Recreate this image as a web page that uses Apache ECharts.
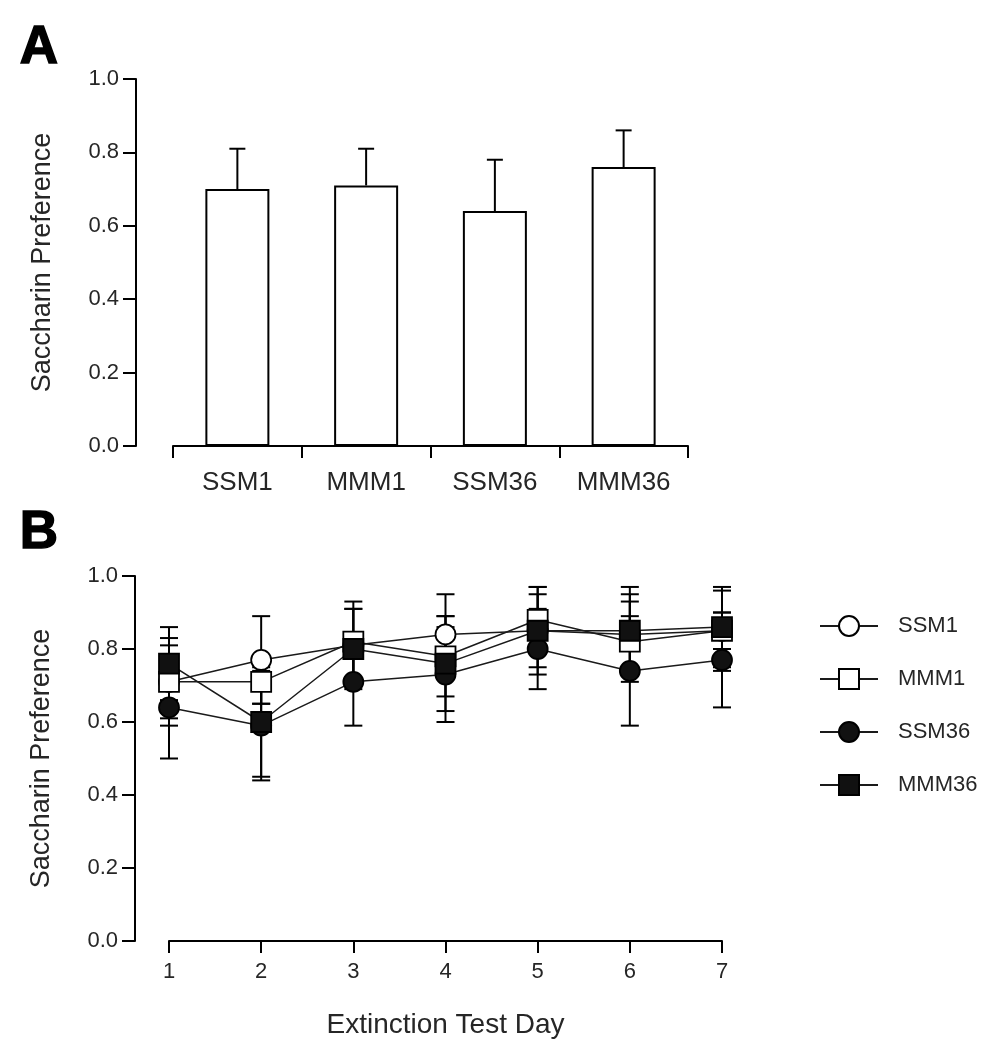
<!DOCTYPE html>
<html>
<head>
<meta charset="utf-8">
<script src="https://cdn.jsdelivr.net/npm/echarts@6/dist/echarts.min.js"></script>
<style>html,body{margin:0;padding:0;background:#fff}#c{width:996px;height:1050px}</style>
</head>
<body>
<div id="c"></div>
<script>
// Panel A data
const barCategories = ['SSM1', 'MMM1', 'SSM36', 'MMM36'];
const barMeans = [0.70, 0.71, 0.64, 0.76];
const barSEM = [0.11, 0.10, 0.14, 0.10];

// Panel B data
const days = [1, 2, 3, 4, 5, 6, 7];
const groupNames = ['SSM1', 'MMM1', 'SSM36', 'MMM36'];
const ssm1Mean = [0.71, 0.77, 0.81, 0.84, 0.85, 0.84, 0.85];
const ssm1SEM = [0.12, 0.12, 0.10, 0.11, 0.10, 0.11, 0.11];
const mmm1Mean = [0.71, 0.71, 0.82, 0.78, 0.88, 0.82, 0.85];
const mmm1SEM = [0.10, 0.06, 0.11, 0.11, 0.09, 0.11, 0.05];
const ssm36Mean = [0.64, 0.59, 0.71, 0.73, 0.80, 0.74, 0.77];
const ssm36SEM = [0.14, 0.15, 0.12, 0.13, 0.11, 0.15, 0.13];
const mmm36Mean = [0.76, 0.60, 0.80, 0.76, 0.85, 0.85, 0.86];
const mmm36SEM = [0.10, 0.15, 0.11, 0.13, 0.12, 0.12, 0.11];
const yTicks = [0, 0.2, 0.4, 0.6, 0.8, 1.0];

const FONT = "'Liberation Sans', Arial, sans-serif";
const TXT = '#262626';

const chart = echarts.init(document.getElementById('c'), null, {renderer: 'canvas'});

function yAxisCfg(gridIndex, offset) {
  return {
    type: 'value', gridIndex: gridIndex, min: yTicks[0], max: yTicks[yTicks.length - 1], interval: 0.2,
    offset: offset,
    name: 'Saccharin Preference', nameLocation: 'middle', nameGap: 80,
    nameTextStyle: {fontFamily: FONT, fontSize: 27, color: TXT},
    axisLine: {show: true, lineStyle: {color: '#000', width: 2}},
    axisTick: {show: true, length: 13, lineStyle: {color: '#000', width: 2}},
    axisLabel: {fontFamily: FONT, fontSize: 22, color: TXT, margin: 17,
      formatter: v => v.toFixed(1)},
    splitLine: {show: false}
  };
}

function errRenderBoth(params, api) {
  const x = api.value(0), y = api.value(1), e = api.value(2);
  const hi = api.coord([x, y + e]);
  const lo = api.coord([x, y - e]);
  const hw = 9;
  const st = {stroke: '#000', lineWidth: 2};
  return {type: 'group', children: [
    {type: 'line', shape: {x1: hi[0], y1: hi[1], x2: lo[0], y2: lo[1]}, style: st},
    {type: 'line', shape: {x1: hi[0] - hw, y1: hi[1], x2: hi[0] + hw, y2: hi[1]}, style: st},
    {type: 'line', shape: {x1: lo[0] - hw, y1: lo[1], x2: lo[0] + hw, y2: lo[1]}, style: st}
  ]};
}

function errRenderUp(params, api) {
  const x = api.value(0), y = api.value(1), e = api.value(2);
  const hi = api.coord([x, y + e]);
  const base = api.coord([x, y]);
  const hw = 8;
  const st = {stroke: '#000', lineWidth: 2};
  return {type: 'group', children: [
    {type: 'line', shape: {x1: hi[0], y1: base[1], x2: hi[0], y2: hi[1]}, style: st},
    {type: 'line', shape: {x1: hi[0] - hw, y1: hi[1], x2: hi[0] + hw, y2: hi[1]}, style: st}
  ]};
}

const groups = [
  {name: groupNames[0], mean: ssm1Mean, sem: ssm1SEM, symbol: 'circle', fill: '#fff'},
  {name: groupNames[1], mean: mmm1Mean, sem: mmm1SEM, symbol: 'rect', fill: '#fff'},
  {name: groupNames[2], mean: ssm36Mean, sem: ssm36SEM, symbol: 'circle', fill: '#111'},
  {name: groupNames[3], mean: mmm36Mean, sem: mmm36SEM, symbol: 'rect', fill: '#111'}
];

const series = [
  {
    type: 'bar', xAxisIndex: 0, yAxisIndex: 0, data: barMeans, barWidth: 64,
    itemStyle: {color: '#fff', borderColor: '#000', borderWidth: 2},
    emphasis: {disabled: true}, silent: true, z: 2
  },
  {
    type: 'custom', xAxisIndex: 0, yAxisIndex: 0, renderItem: errRenderUp,
    data: barCategories.map((c, i) => [i, barMeans[i], barSEM[i]]),
    encode: {x: 0, y: 1}, silent: true, z: 1
  }
];

groups.forEach(g => {
  series.push({
    type: 'custom', xAxisIndex: 1, yAxisIndex: 1, renderItem: errRenderBoth,
    data: days.map((d, i) => [d, g.mean[i], g.sem[i]]),
    encode: {x: 0, y: 1}, silent: true, z: 1
  });
});
groups.forEach(g => {
  series.push({
    name: g.name, type: 'line', xAxisIndex: 1, yAxisIndex: 1,
    data: days.map((d, i) => [d, g.mean[i]]),
    symbol: g.symbol, symbolSize: 20,
    lineStyle: {color: '#1a1a1a', width: 1.5},
    itemStyle: {color: g.fill, borderColor: '#000', borderWidth: 1.8},
    emphasis: {disabled: true}, silent: true, z: 3
  });
});

const option = {
  animation: false,
  backgroundColor: '#fff',
  textStyle: {fontFamily: FONT},
  graphic: [
    {type: 'text', left: 19, top: 21, style: {text: 'A', fontFamily: FONT, fontSize: 53, fontWeight: 900, fill: '#000', stroke: '#000', lineWidth: 1.5}},
    {type: 'text', left: 19, top: 506, style: {text: 'B', fontFamily: FONT, fontSize: 53, fontWeight: 900, fill: '#000', stroke: '#000', lineWidth: 1.5}}
  ],
  grid: [
    {left: 173, top: 79, width: 515, height: 367, containLabel: false},
    {left: 169, top: 576, width: 553, height: 365, containLabel: false}
  ],
  xAxis: [
    {
      type: 'category', gridIndex: 0, data: barCategories, boundaryGap: true,
      axisLine: {show: true, lineStyle: {color: '#000', width: 2}},
      axisTick: {show: true, length: 12, lineStyle: {color: '#000', width: 2}},
      axisLabel: {fontFamily: FONT, fontSize: 26, color: TXT, margin: 24},
      splitLine: {show: false}
    },
    {
      type: 'value', gridIndex: 1, min: 1, max: 7, interval: 1,
      name: 'Extinction Test Day', nameLocation: 'middle', nameGap: 70,
      nameTextStyle: {fontFamily: FONT, fontSize: 28, color: TXT},
      axisLine: {show: true, lineStyle: {color: '#000', width: 2}},
      axisTick: {show: true, length: 12, lineStyle: {color: '#000', width: 2}},
      axisLabel: {fontFamily: FONT, fontSize: 22, color: TXT, margin: 20},
      splitLine: {show: false}
    }
  ],
  yAxis: [yAxisCfg(0, 37), yAxisCfg(1, 34)],
  legend: {
    data: groupNames, orient: 'vertical', left: 819, top: 615, padding: 0,
    itemWidth: 58, itemHeight: 25, itemGap: 31,
    textStyle: {fontFamily: FONT, fontSize: 22, color: TXT, padding: [0, 0, 0, 15]},
    selectedMode: false
  },
  series: series
};
chart.setOption(option);
</script>
</body>
</html>
